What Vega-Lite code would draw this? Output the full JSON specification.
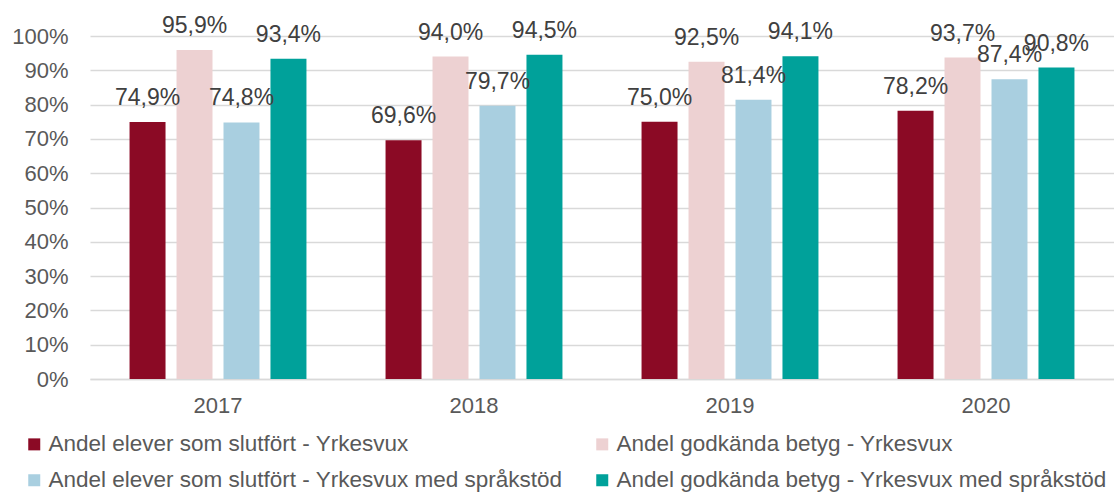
{
  "$schema": "https://vega.github.io/schema/vega-lite/v6.json",
  "width": 1024,
  "height": 343,
  "autosize": {"type": "none"},
  "padding": {"left": 90, "top": 36, "right": 0, "bottom": 115},
  "config": {
    "locale": {"number": {"decimal": ",", "thousands": " ", "grouping": [3], "currency": ["", " kr"]}},
    "view": {"stroke": null},
    "font": "Liberation Sans"
  },
  "data": {
    "values": [
      {"year": "2017", "serie": "Andel elever som slutfört - Yrkesvux", "value": 0.749},
      {"year": "2017", "serie": "Andel godkända betyg - Yrkesvux", "value": 0.959},
      {"year": "2017", "serie": "Andel elever som slutfört - Yrkesvux med språkstöd", "value": 0.748},
      {"year": "2017", "serie": "Andel godkända betyg - Yrkesvux med språkstöd", "value": 0.934},
      {"year": "2018", "serie": "Andel elever som slutfört - Yrkesvux", "value": 0.696},
      {"year": "2018", "serie": "Andel godkända betyg - Yrkesvux", "value": 0.940},
      {"year": "2018", "serie": "Andel elever som slutfört - Yrkesvux med språkstöd", "value": 0.797},
      {"year": "2018", "serie": "Andel godkända betyg - Yrkesvux med språkstöd", "value": 0.945},
      {"year": "2019", "serie": "Andel elever som slutfört - Yrkesvux", "value": 0.750},
      {"year": "2019", "serie": "Andel godkända betyg - Yrkesvux", "value": 0.925},
      {"year": "2019", "serie": "Andel elever som slutfört - Yrkesvux med språkstöd", "value": 0.814},
      {"year": "2019", "serie": "Andel godkända betyg - Yrkesvux med språkstöd", "value": 0.941},
      {"year": "2020", "serie": "Andel elever som slutfört - Yrkesvux", "value": 0.782},
      {"year": "2020", "serie": "Andel godkända betyg - Yrkesvux", "value": 0.937},
      {"year": "2020", "serie": "Andel elever som slutfört - Yrkesvux med språkstöd", "value": 0.874},
      {"year": "2020", "serie": "Andel godkända betyg - Yrkesvux med språkstöd", "value": 0.908}
    ]
  },
  "encoding": {
    "x": {
      "field": "year", "type": "nominal",
      "scale": {"paddingInner": 0.266, "paddingOuter": 0.133},
      "axis": {
        "title": null, "labelAngle": 0, "labelFontSize": 22, "labelColor": "#595959",
        "ticks": false, "domainColor": "#d9d9d9", "domainWidth": 1.5, "labelPadding": 16
      }
    },
    "xOffset": {
      "field": "serie", "type": "nominal",
      "sort": ["Andel elever som slutfört - Yrkesvux", "Andel godkända betyg - Yrkesvux", "Andel elever som slutfört - Yrkesvux med språkstöd", "Andel godkända betyg - Yrkesvux med språkstöd"],
      "scale": {"paddingInner": 0.234, "paddingOuter": 0.117}
    },
    "y": {
      "field": "value", "type": "quantitative",
      "scale": {"domain": [0, 1], "nice": false},
      "axis": {
        "title": null, "format": ".0%", "values": [0, 0.1, 0.2, 0.3, 0.4, 0.5, 0.6, 0.7, 0.8, 0.9, 1],
        "labelOverlap": false,
        "labelFontSize": 22, "labelColor": "#595959", "ticks": false, "domain": false,
        "labelPadding": 22, "gridColor": "#d9d9d9", "gridWidth": 1.5
      }
    }
  },
  "layer": [
    {
      "mark": {"type": "bar"},
      "encoding": {
        "color": {
          "field": "serie", "type": "nominal",
          "scale": {
            "domain": ["Andel elever som slutfört - Yrkesvux", "Andel godkända betyg - Yrkesvux", "Andel elever som slutfört - Yrkesvux med språkstöd", "Andel godkända betyg - Yrkesvux med språkstöd"],
            "range": ["#8B0A25", "#EDD1D2", "#A9CFE0", "#00A19A"]
          },
          "legend": {
            "title": null, "orient": "none", "legendX": -67, "legendY": 397,
            "direction": "horizontal",
            "columns": 2, "columnPadding": 28, "rowPadding": 13,
            "symbolType": "square", "symbolSize": 144, "symbolStrokeWidth": 0, "symbolOffset": 0,
            "labelFontSize": 22.5, "labelColor": "#595959", "labelOffset": 3, "labelLimit": 600
          }
        }
      }
    },
    {
      "mark": {"type": "text", "baseline": "alphabetic", "dy": -17, "fontSize": 23, "color": "#404040"},
      "encoding": {
        "text": {"field": "value", "type": "quantitative", "format": ".1%"}
      }
    }
  ]
}
